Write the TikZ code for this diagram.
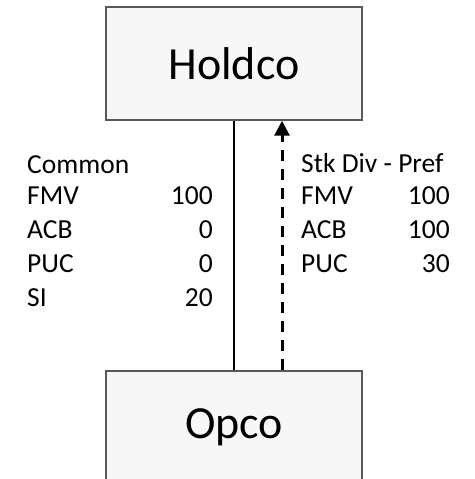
\documentclass[tikz,border=0pt]{standalone}
\usepackage{fontspec}
\setmainfont{Carlito}
\usetikzlibrary{arrows.meta}

\tikzset{
	entity/.style={draw=black!65, fill=black!3, line width=1.5pt, minimum width=256pt, minimum height=113pt, inner sep=0pt, font=\fontsize{46}{50}\selectfont},
	tag/.style={anchor=base west, inner sep=0pt, font=\fontsize{27.5}{33}\selectfont},
	amount/.style={anchor=base east, inner sep=0pt, font=\fontsize{27.5}{33}\selectfont}
}

\begin{document}
\begin{tikzpicture}[x=1pt, y=1pt]
			%%%%% START %%%%%
			\clip (0, 0) rectangle (474, 479);
			
			\node[entity] (holdco) at (234, 415.5) {Holdco};
			\node[entity] (opco) at (234, 51.5) {Opco};
			
			\draw[line width=1.6pt] (holdco.south) -- (opco.north);
			\draw[line width=3pt, dash pattern=on 11pt off 8pt, -{Triangle[length=15pt, width=15pt]}]
				([xshift=48pt]opco.north) -- ([xshift=48pt]holdco.south);
			
			% common shares
			\node[tag] (common) at (27, 305) {Common};
			\node[tag] (cfmv) at (27, 274) {FMV};
			\node[amount] (cfmvv) at (213, 274) {100};
			\node[tag] (cacb) at (27, 240) {ACB};
			\node[amount] (cacbv) at (213, 240) {0};
			\node[tag] (cpuc) at (27, 206) {PUC};
			\node[amount] (cpucv) at (213, 206) {0};
			\node[tag] (csi) at (27, 172) {SI};
			\node[amount] (csiv) at (213, 172) {20};
			
			% stock dividend
			\node[tag] (pref) at (301, 306) {Stk Div - Pref};
			\node[tag] (pfmv) at (301, 274) {FMV};
			\node[amount] (pfmvv) at (450, 274) {100};
			\node[tag] (pacb) at (301, 240) {ACB};
			\node[amount] (pacbv) at (450, 240) {100};
			\node[tag] (ppuc) at (301, 206) {PUC};
			\node[amount] (ppucv) at (450, 206) {30};
			%%%%% END %%%%%
\end{tikzpicture}
\end{document}
